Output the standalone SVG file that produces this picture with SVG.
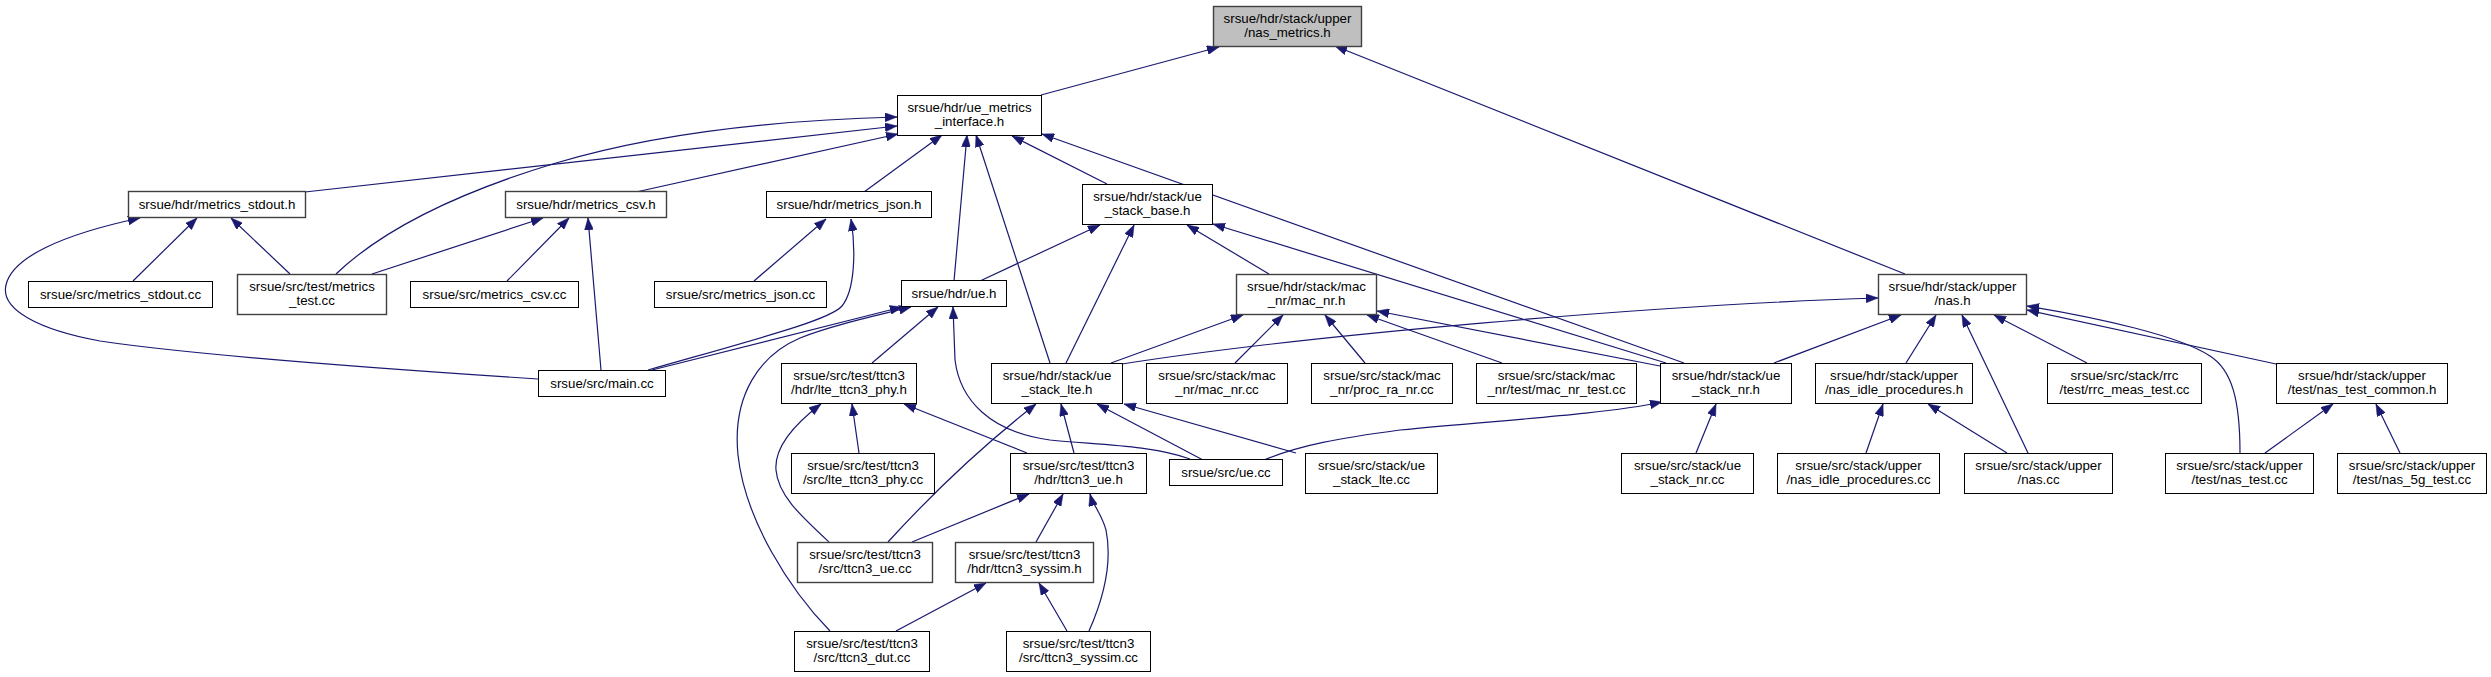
<svg xmlns="http://www.w3.org/2000/svg" width="2491" height="677" viewBox="0 0 2491 677">
<style>
.n rect{fill:#fff;stroke:#000;stroke-width:1}
.n.g rect{stroke:#404040;stroke-width:1.4}
.n.r rect{fill:#bfbfbf;stroke:#404040;stroke-width:1.4}
.n text{font-family:"Liberation Sans",Arial,sans-serif;font-size:13.3px;fill:#000;text-anchor:middle}
#edges path{fill:none;stroke:#191970;stroke-width:1.2;marker-end:url(#ah)}
</style>
<defs>
<marker id="ah" markerUnits="userSpaceOnUse" markerWidth="12" markerHeight="9" refX="12" refY="4.5" orient="auto" viewBox="0 0 12 9">
<path d="M0,0 L12,4.5 L0,9 z" fill="#191970" stroke="#191970" stroke-width="0.5"/>
</marker>
</defs>
<rect width="2491" height="677" fill="#fff"/>
<g id="edges">
<path d="M1041,95 L1219,47"/>
<path d="M1905,274 L1335,46"/>
<path d="M336,274 C380,232 450,195 556,163 C660,132 780,120 897,117"/>
<path d="M305,192 L897,126"/>
<path d="M636,192 L898,134"/>
<path d="M864,192 L942,135"/>
<path d="M954,281 L967,135"/>
<path d="M1050,363 L976,135"/>
<path d="M1107,184 L1012,136"/>
<path d="M1684,363 L1042,134"/>
<path d="M133,281 L197,218"/>
<path d="M290,274 L231,218"/>
<path d="M538,379 C400,370 200,356 100,341 C40,330 0,310 6,285 C12,258 60,235 140,218"/>
<path d="M372,274 L543,218"/>
<path d="M507,281 L569,218"/>
<path d="M601,370 L588,218"/>
<path d="M754,281 L826,219"/>
<path d="M648,370 C760,338 830,320 842,306 C855,290 856,250 851,219"/>
<path d="M652,370 L902,307"/>
<path d="M830,631 C790,590 745,520 738,455 C732,395 760,355 800,338 C830,326 870,317 911,307"/>
<path d="M872,363 L938,307"/>
<path d="M1190,459 C1150,445 1100,445 1050,440 C990,432 960,400 955,360 L953,307"/>
<path d="M980,281 L1100,225"/>
<path d="M1066,363 L1134,225"/>
<path d="M1269,274 L1187,225"/>
<path d="M1666,363 L1213,224"/>
<path d="M1111,363 L1243,315"/>
<path d="M1235,363 L1283,315"/>
<path d="M1365,363 L1325,315"/>
<path d="M1502,363 L1367,315"/>
<path d="M1660,366 L1377,311"/>
<path d="M1122,364 C1300,336 1650,305 1878,298"/>
<path d="M1774,363 L1901,315"/>
<path d="M1906,363 L1936,315"/>
<path d="M2028,453 L1962,315"/>
<path d="M2087,363 L1994,315"/>
<path d="M2276,364 L2027,310"/>
<path d="M2240,453 C2240,400 2232,370 2210,356 C2180,336 2100,318 2027,306"/>
<path d="M888,542 C940,485 990,440 1036,404"/>
<path d="M1074,453 L1061,404"/>
<path d="M1203,460 L1097,404"/>
<path d="M1296,453 L1124,404"/>
<path d="M859,453 L852,404"/>
<path d="M1027,453 L904,404"/>
<path d="M829,542 C800,515 778,495 776,470 C774,445 800,420 821,404"/>
<path d="M1264,460 C1300,445 1340,438 1400,430 C1500,420 1600,415 1662,402"/>
<path d="M1696,453 L1716,404"/>
<path d="M912,542 L1029,494"/>
<path d="M1036,542 L1063,494"/>
<path d="M1089,631 C1105,595 1112,560 1106,530 C1102,515 1093,505 1090,494"/>
<path d="M896,631 L986,583"/>
<path d="M1067,631 L1039,583"/>
<path d="M1866,453 L1883,404"/>
<path d="M2007,453 L1928,404"/>
<path d="M2265,453 L2333,404"/>
<path d="M2400,453 L2376,404"/>
</g>
<g id="root" class="n r"><rect x="1213.5" y="6.5" width="148" height="40"/><text x="1287.5" y="22.5">srsue/hdr/stack/upper</text><text x="1287.5" y="37">/nas_metrics.h</text></g>
<g id="ue_metrics_interface" class="n"><rect x="897.5" y="95.5" width="144" height="40"/><text x="969.5" y="111.5">srsue/hdr/ue_metrics</text><text x="969.5" y="126">_interface.h</text></g>
<g id="metrics_stdout_h" class="n g"><rect x="128.5" y="191.5" width="177" height="26"/><text x="217" y="209">srsue/hdr/metrics_stdout.h</text></g>
<g id="metrics_csv_h" class="n g"><rect x="505.5" y="191.5" width="161" height="26"/><text x="586" y="209">srsue/hdr/metrics_csv.h</text></g>
<g id="metrics_json_h" class="n"><rect x="766.5" y="191.5" width="165" height="26"/><text x="849" y="209">srsue/hdr/metrics_json.h</text></g>
<g id="ue_stack_base" class="n"><rect x="1082.5" y="184.5" width="130" height="40"/><text x="1147.5" y="200.5">srsue/hdr/stack/ue</text><text x="1147.5" y="215">_stack_base.h</text></g>
<g id="metrics_stdout_cc" class="n"><rect x="28.5" y="281.5" width="184" height="26"/><text x="120.5" y="299">srsue/src/metrics_stdout.cc</text></g>
<g id="metrics_test" class="n g"><rect x="237.5" y="274.5" width="149" height="40"/><text x="312" y="290.5">srsue/src/test/metrics</text><text x="312" y="305">_test.cc</text></g>
<g id="metrics_csv_cc" class="n"><rect x="410.5" y="281.5" width="168" height="26"/><text x="494.5" y="299">srsue/src/metrics_csv.cc</text></g>
<g id="metrics_json_cc" class="n"><rect x="654.5" y="281.5" width="172" height="26"/><text x="740.5" y="299">srsue/src/metrics_json.cc</text></g>
<g id="ue_h" class="n"><rect x="901.5" y="280.5" width="105" height="26"/><text x="954" y="298">srsue/hdr/ue.h</text></g>
<g id="mac_nr_h" class="n g"><rect x="1236.5" y="274.5" width="140" height="40"/><text x="1306.5" y="290.5">srsue/hdr/stack/mac</text><text x="1306.5" y="305">_nr/mac_nr.h</text></g>
<g id="nas_h" class="n g"><rect x="1878.5" y="274.5" width="148" height="40"/><text x="1952.5" y="290.5">srsue/hdr/stack/upper</text><text x="1952.5" y="305">/nas.h</text></g>
<g id="main_cc" class="n"><rect x="538.5" y="370.5" width="127" height="26"/><text x="602" y="388">srsue/src/main.cc</text></g>
<g id="lte_ttcn3_phy_h" class="n"><rect x="781.5" y="363.5" width="135" height="40"/><text x="849" y="379.5">srsue/src/test/ttcn3</text><text x="849" y="394">/hdr/lte_ttcn3_phy.h</text></g>
<g id="ue_stack_lte_h" class="n"><rect x="991.5" y="363.5" width="131" height="40"/><text x="1057" y="379.5">srsue/hdr/stack/ue</text><text x="1057" y="394">_stack_lte.h</text></g>
<g id="mac_nr_cc" class="n"><rect x="1146.5" y="363.5" width="141" height="40"/><text x="1217" y="379.5">srsue/src/stack/mac</text><text x="1217" y="394">_nr/mac_nr.cc</text></g>
<g id="proc_ra_nr_cc" class="n"><rect x="1311.5" y="363.5" width="141" height="40"/><text x="1382" y="379.5">srsue/src/stack/mac</text><text x="1382" y="394">_nr/proc_ra_nr.cc</text></g>
<g id="mac_nr_test_cc" class="n"><rect x="1476.5" y="363.5" width="160" height="40"/><text x="1556.5" y="379.5">srsue/src/stack/mac</text><text x="1556.5" y="394">_nr/test/mac_nr_test.cc</text></g>
<g id="ue_stack_nr_h" class="n"><rect x="1660.5" y="363.5" width="131" height="40"/><text x="1726" y="379.5">srsue/hdr/stack/ue</text><text x="1726" y="394">_stack_nr.h</text></g>
<g id="nas_idle_procedures_h" class="n"><rect x="1815.5" y="363.5" width="157" height="40"/><text x="1894" y="379.5">srsue/hdr/stack/upper</text><text x="1894" y="394">/nas_idle_procedures.h</text></g>
<g id="rrc_meas_test_cc" class="n"><rect x="2047.5" y="363.5" width="154" height="40"/><text x="2124.5" y="379.5">srsue/src/stack/rrc</text><text x="2124.5" y="394">/test/rrc_meas_test.cc</text></g>
<g id="nas_test_common_h" class="n"><rect x="2276.5" y="363.5" width="171" height="40"/><text x="2362" y="379.5">srsue/hdr/stack/upper</text><text x="2362" y="394">/test/nas_test_common.h</text></g>
<g id="lte_ttcn3_phy_cc" class="n"><rect x="791.5" y="453.5" width="143" height="40"/><text x="863" y="469.5">srsue/src/test/ttcn3</text><text x="863" y="484">/src/lte_ttcn3_phy.cc</text></g>
<g id="ttcn3_ue_h" class="n"><rect x="1010.5" y="453.5" width="136" height="40"/><text x="1078.5" y="469.5">srsue/src/test/ttcn3</text><text x="1078.5" y="484">/hdr/ttcn3_ue.h</text></g>
<g id="ue_cc" class="n"><rect x="1169.5" y="459.5" width="113" height="26"/><text x="1226" y="477">srsue/src/ue.cc</text></g>
<g id="ue_stack_lte_cc" class="n"><rect x="1305.5" y="453.5" width="132" height="40"/><text x="1371.5" y="469.5">srsue/src/stack/ue</text><text x="1371.5" y="484">_stack_lte.cc</text></g>
<g id="ue_stack_nr_cc" class="n"><rect x="1621.5" y="453.5" width="132" height="40"/><text x="1687.5" y="469.5">srsue/src/stack/ue</text><text x="1687.5" y="484">_stack_nr.cc</text></g>
<g id="nas_idle_procedures_cc" class="n"><rect x="1777.5" y="453.5" width="162" height="40"/><text x="1858.5" y="469.5">srsue/src/stack/upper</text><text x="1858.5" y="484">/nas_idle_procedures.cc</text></g>
<g id="nas_cc" class="n"><rect x="1964.5" y="453.5" width="148" height="40"/><text x="2038.5" y="469.5">srsue/src/stack/upper</text><text x="2038.5" y="484">/nas.cc</text></g>
<g id="nas_test_cc" class="n"><rect x="2165.5" y="453.5" width="148" height="40"/><text x="2239.5" y="469.5">srsue/src/stack/upper</text><text x="2239.5" y="484">/test/nas_test.cc</text></g>
<g id="nas_5g_test_cc" class="n"><rect x="2337.5" y="453.5" width="149" height="40"/><text x="2412" y="469.5">srsue/src/stack/upper</text><text x="2412" y="484">/test/nas_5g_test.cc</text></g>
<g id="ttcn3_ue_cc" class="n g"><rect x="797.5" y="542.5" width="135" height="40"/><text x="865" y="558.5">srsue/src/test/ttcn3</text><text x="865" y="573">/src/ttcn3_ue.cc</text></g>
<g id="ttcn3_syssim_h" class="n g"><rect x="955.5" y="542.5" width="138" height="40"/><text x="1024.5" y="558.5">srsue/src/test/ttcn3</text><text x="1024.5" y="573">/hdr/ttcn3_syssim.h</text></g>
<g id="ttcn3_dut_cc" class="n"><rect x="794.5" y="631.5" width="135" height="40"/><text x="862" y="647.5">srsue/src/test/ttcn3</text><text x="862" y="662">/src/ttcn3_dut.cc</text></g>
<g id="ttcn3_syssim_cc" class="n"><rect x="1006.5" y="631.5" width="144" height="40"/><text x="1078.5" y="647.5">srsue/src/test/ttcn3</text><text x="1078.5" y="662">/src/ttcn3_syssim.cc</text></g>
</svg>
